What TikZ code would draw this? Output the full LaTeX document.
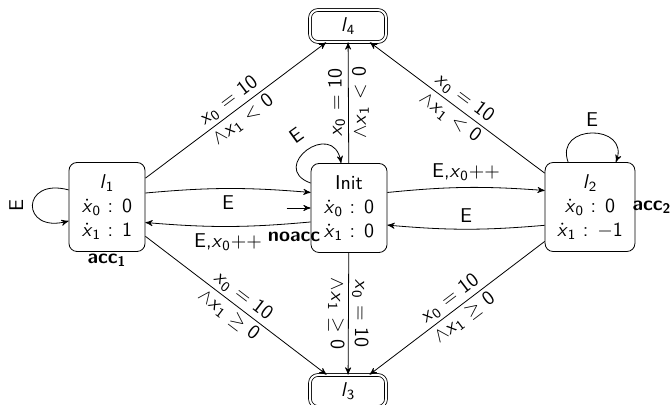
\documentclass[tikz,border=0pt]{standalone}
\usetikzlibrary{arrows,shapes}
\newcommand{\vx}[1]{\textit{x}\textsubscript{#1}}
\newcommand{\vdx}[1]{$\dot{\mbox{\textit{x}}}$\textsubscript{#1}}
\newcommand{\loc}[1]{\textit{l}\textsubscript{#1}}
\tikzstyle{location}=[draw,rounded corners=4pt,align=center,minimum width=38pt,minimum height=44.5pt,inner sep=6pt]
\tikzstyle{final location}=[draw,double,double distance=1pt,rounded corners=4pt,minimum width=38pt,minimum height=16pt]
\tikzstyle{trans} = [draw,->]
\tikzstyle{guard} = [sloped,anchor=center,align=center,inner sep=1pt]
\tikzstyle{accmark} = [font=\sffamily\bfseries]

\begin{document}
\begin{tikzpicture}[x=0.5pt,y=0.5pt,auto,>=stealth',font=\sffamily]
    \useasboundingbox (0,0) rectangle (672,405);
    % First we draw the locations
    \node[location] (init) at (349,197) {Init\\\vdx{0} : 0\\\vdx{1} : 0};
    \node[location] (l1) at (107,198) {\loc{1}\\\vdx{0} : 0\\\vdx{1} : 1};
    \node[location] (l2) at (590,198) {\loc{2}\\\vdx{0} : 0\\\vdx{1} : $-$1};
    \foreach \pos/\name/\idx in {{(348,379)/l4/4}, {(348,14)/l3/3}}
        \node[final location] (\name) at \pos {\loc{\idx}};

    % Acceptance marks
    \node[accmark] (acc1) at (107,145) {acc\textsubscript{1}};
    \node[accmark] (acc2) at (652,198) {acc\textsubscript{2}};
    \node[accmark] (noacc) at (294,168) {noacc};

    % Guarded transitions to l3 and l4
    \foreach \source/\dest/\rel in {l1/l4/{<}, l2/l4/{<}, l1/l3/{\geq}, l2/l3/{\geq}}
        \path[trans] (\source) -- node[guard] {\vx{0} $=$ 10\\$\wedge$\vx{1} $\rel$ 0} (\dest);
    \foreach \dest/\rel in {l4/{<}, l3/{\geq}}
        \path[trans] (init) -- node[guard,rotate=180] {\vx{0} $=$ 10\\$\wedge$\vx{1} $\rel$ 0} (\dest);

    % Transitions between Init, l1 and l2
    \path[trans] (l1.20) to[bend left=5] node[swap] {E} (init.158);
    \path[trans] (init.200) to[bend left=5] node {E,\vx{0}$++$} (l1.338);
    \path[trans] (init.22) to[bend left=5] node {E,\vx{0}$++$} (l2.160);
    \path[trans] (l2.202) to[bend left=5] node[swap] {E} (init.336);

    % Self loops
    \path[trans] (l1.156) to[out=165,in=195,looseness=4.1] node[rotate=90,anchor=south,inner sep=4.5pt] {E} (l1.200);
    \path[trans] (init.147) to[out=160,in=100,looseness=3.2] node[sloped,anchor=south,inner sep=5.5pt] {E} (init.100);
    \path[trans] (l2.116) to[out=110,in=70,looseness=2.2] node[anchor=south] {E} (l2.60);

    % Initial location
    \coordinate (start) at ([xshift=-12pt]init.west);
    \path[trans] (start) -- (init.west);
\end{tikzpicture}
\end{document}
